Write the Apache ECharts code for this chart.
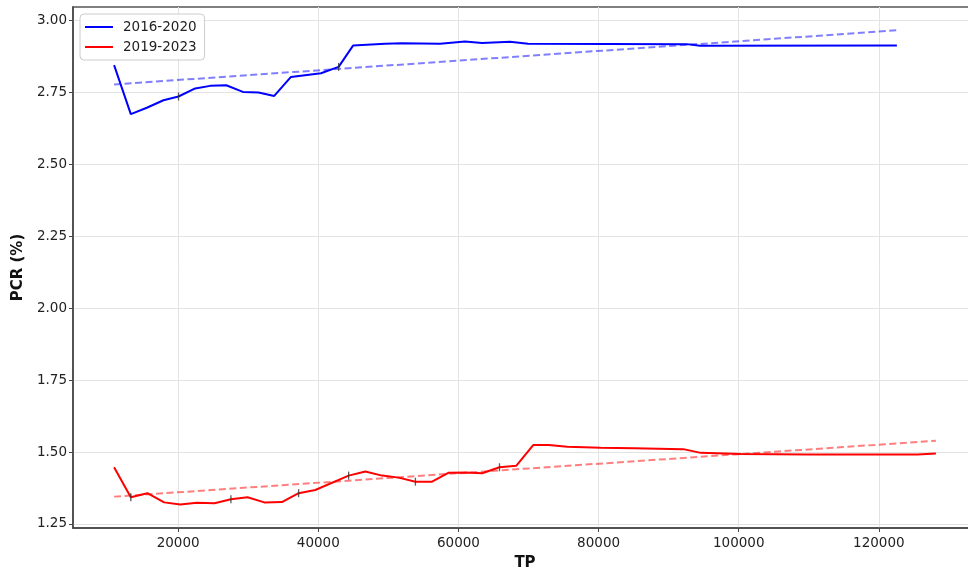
<!DOCTYPE html>
<html>
<head>
<meta charset="utf-8">
<script src="https://cdn.jsdelivr.net/npm/echarts@6/dist/echarts.min.js"></script>
<style>html,body{margin:0;padding:0;background:#fff}#c{width:968px;height:571px}</style>
</head>
<body>
<div id="c"></div>
<script>
const seriesNames = ['2016-2020', '2019-2023'];
const xTicks = [20000, 40000, 60000, 80000, 100000, 120000];
const yTicks = [1.25, 1.5, 1.75, 2.0, 2.25, 2.5, 2.75, 3.0];

const tpBlue = [10857, 13243, 15530, 17900, 20050, 22430, 24570, 26860, 29240, 31470, 33710, 36100, 40380, 42900, 44960, 49530, 51910, 57380, 60940, 63370, 67360, 69930, 92610, 94470, 122570];
const pcrBlue = [2.844, 2.674, 2.696, 2.722, 2.735, 2.763, 2.772, 2.774, 2.751, 2.749, 2.737, 2.803, 2.816, 2.838, 2.912, 2.918, 2.920, 2.918, 2.926, 2.921, 2.925, 2.918, 2.917, 2.911, 2.912];

const tpRed = [10857, 13243, 15610, 18000, 20290, 22670, 25190, 27530, 29900, 32290, 34810, 37190, 39570, 44330, 46710, 49100, 51470, 53860, 56240, 58620, 61000, 63390, 65860, 68240, 70670, 72900, 75530, 80290, 85050, 92100, 94570, 100290, 110000, 125500, 128140];
const pcrRed = [1.447, 1.343, 1.357, 1.325, 1.318, 1.324, 1.322, 1.336, 1.343, 1.325, 1.326, 1.357, 1.368, 1.418, 1.432, 1.418, 1.411, 1.397, 1.397, 1.428, 1.429, 1.426, 1.447, 1.452, 1.524, 1.524, 1.518, 1.515, 1.513, 1.510, 1.497, 1.493, 1.491, 1.491, 1.495];

const trendBlueTP = [10857, 122570];
const trendBluePCR = [2.777, 2.965];
const trendRedTP = [10857, 128140];
const trendRedPCR = [1.345, 1.539];

const markBlueTP = [20050, 42900];
const markBluePCR = [2.735, 2.838];
const markRedTP = [13243, 27530, 37190, 44330, 53860, 65860];
const markRedPCR = [1.343, 1.336, 1.357, 1.418, 1.397, 1.447];

const zip = (a, b) => a.map((v, i) => [v, b[i]]);
const FONT = 'DejaVu Sans';

const chart = echarts.init(document.getElementById('c'), null, {renderer: 'canvas'});
chart.setOption({
  animation: false,
  backgroundColor: '#fff',
  grid: {left: 73, top: 7, right: -9, bottom: 43, outerBoundsMode: 'none', containLabel: false, show: true, borderColor: '#555', borderWidth: 1.5, backgroundColor: 'transparent'},
  legend: {
    data: seriesNames,
    orient: 'vertical',
    left: 80, top: 14,
    padding: [6, 8, 6, 5],
    itemGap: 6,
    itemWidth: 28, itemHeight: 2,
    icon: 'rect',
    borderColor: '#cccccc', borderWidth: 1, borderRadius: 4,
    backgroundColor: 'rgba(255,255,255,0.85)',
    textStyle: {fontFamily: FONT, fontSize: 13.5, color: '#222', padding: [0, 0, 0, 5]}
  },
  xAxis: {
    type: 'value', min: 4993, max: 134004,
    name: 'TP', nameLocation: 'middle', nameGap: 28,
    nameTextStyle: {fontFamily: FONT, fontSize: 15, fontWeight: 'bold', color: '#111'},
    axisLine: {show: true, onZero: false, lineStyle: {color: '#444', width: 1.5}},
    axisTick: {show: true, inside: false, length: 4, customValues: xTicks, lineStyle: {color: '#444'}},
    axisLabel: {customValues: xTicks, margin: 8, fontFamily: FONT, fontSize: 13.5, color: '#222', formatter: v => String(v)},
    splitLine: {show: true, lineStyle: {color: '#e3e3e3', width: 1}}
  },
  yAxis: {
    type: 'value', min: 1.236, max: 3.046,
    name: 'PCR (%)', nameLocation: 'middle', nameGap: 38, nameRotate: 90,
    nameTextStyle: {fontFamily: FONT, fontSize: 15, fontWeight: 'bold', color: '#111'},
    axisLine: {show: true, lineStyle: {color: '#444', width: 1.5}},
    axisTick: {show: true, inside: false, length: 4, customValues: yTicks, lineStyle: {color: '#444'}},
    axisLabel: {customValues: yTicks, margin: 6, fontFamily: FONT, fontSize: 13.5, color: '#222', formatter: v => v.toFixed(2)},
    splitLine: {show: true, lineStyle: {color: '#e3e3e3', width: 1}}
  },
  series: [
    {name: seriesNames[0], type: 'line', data: zip(tpBlue, pcrBlue), symbol: 'none', color: '#0000ff', lineStyle: {width: 2, color: '#0000ff'}, z: 3},
    {name: seriesNames[1], type: 'line', data: zip(tpRed, pcrRed), symbol: 'none', color: '#ff0000', lineStyle: {width: 2, color: '#ff0000'}, z: 3},
    {name: 'trendBlue', type: 'line', data: zip(trendBlueTP, trendBluePCR), symbol: 'none', lineStyle: {width: 2, color: 'rgba(0,0,255,0.5)', type: [7, 3.5]}, z: 4},
    {name: 'trendRed', type: 'line', data: zip(trendRedTP, trendRedPCR), symbol: 'none', lineStyle: {width: 2, color: 'rgba(255,0,0,0.5)', type: [7, 3.5]}, z: 4},
    {name: 'markBlue', type: 'scatter', data: zip(markBlueTP, markBluePCR), symbol: 'rect', symbolSize: [1.3, 8], itemStyle: {color: '#333'}, z: 5},
    {name: 'markRed', type: 'scatter', data: zip(markRedTP, markRedPCR), symbol: 'rect', symbolSize: [1.3, 8], itemStyle: {color: '#333'}, z: 5}
  ]
});
</script>
</body>
</html>
